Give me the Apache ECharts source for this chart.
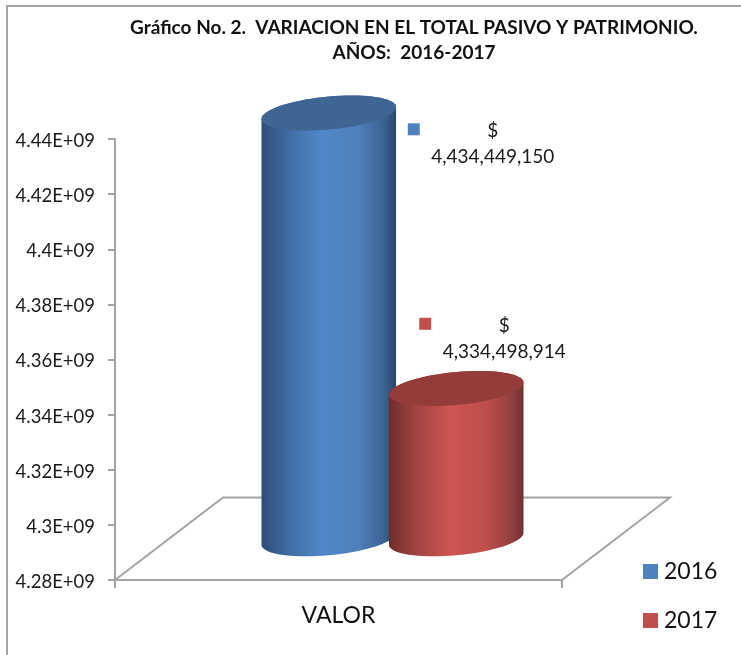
<!DOCTYPE html>
<html>
<head>
<meta charset="utf-8">
<style>html,body{margin:0;padding:0;background:#fff}#c{width:741px;height:655px}</style>
<script src="https://cdn.jsdelivr.net/npm/echarts@6/dist/echarts.min.js"></script>
</head>
<body>
<div id="c"></div>
<script>
var titleText = 'Gráfico No. 2.  VARIACION EN EL TOTAL PASIVO Y PATRIMONIO.\nAÑOS:  2016-2017';
var categories = ['VALOR'];
var seriesNames = ['2016', '2017'];
var values2016 = [4434449150];
var values2017 = [4334498914];
var tickLabels = ['4.28E+09','4.3E+09','4.32E+09','4.34E+09','4.36E+09','4.38E+09','4.4E+09','4.42E+09','4.44E+09'];
var axisMin = 4280000000, axisMax = 4440000000, axisStep = 20000000;

var FONT = 'Lato, "Open Sans", sans-serif';
var depthX = 108, depthY = 82.5;
var grey = '#a3a3a3';

function cylinder(look) {
  return function (params, api) {
    var v = api.value(1);
    var band = api.size([1, 0])[0];
    var front = api.coord([0, axisMin]);
    var topPt = api.coord([0, v]);
    var cx = front[0] + look.offset * band + depthX / 2;
    var baseY = front[1] - depthY / 2;
    var topY = topPt[1] - depthY / 2;
    var A = 0.1505 * band, S = 6, R = 16.5;
    function pt(cy, t) { return [cx + A * Math.cos(t), cy - S * Math.cos(t) - R * Math.sin(t)]; }
    var N = 72, i, top = [], body = [];
    for (i = 0; i < N; i++) top.push(pt(topY, i / N * 2 * Math.PI));
    for (i = 0; i <= N / 2; i++) body.push(pt(topY, Math.PI * i / (N / 2)));
    for (i = 0; i <= N / 2; i++) body.push(pt(baseY, Math.PI + Math.PI * i / (N / 2)));
    var sq = 12;
    return {
      type: 'group',
      children: [
        { type: 'polygon', shape: { points: body }, style: { fill: {
            type: 'linear', x: 0, y: 0, x2: 1, y2: 0,
            colorStops: look.stops } } },
        { type: 'polygon', shape: { points: top }, style: { fill: look.top } },
        { type: 'rect',
          shape: { x: cx + look.markDx - sq / 2, y: topPt[1] + look.markDy - sq / 2, width: sq, height: sq },
          style: { fill: look.color } },
        { type: 'text',
          style: { x: cx + look.textDx, y: topPt[1] + look.textDy,
            text: '$\n' + v.toLocaleString('en-US'),
            font: '19px ' + FONT, fill: '#1a1a1a', align: 'center', verticalAlign: 'middle', lineHeight: 26 } }
      ]
    };
  };
}

function floor(params, api) {
  var band = api.size([1, 0])[0];
  var c = api.coord([0, axisMin]);
  var l = c[0] - band / 2, r = c[0] + band / 2, y = c[1];
  return {
    type: 'polyline',
    shape: { points: [[l, y], [l + depthX, y - depthY], [r + depthX, y - depthY], [r, y]] },
    style: { stroke: grey, lineWidth: 2, fill: null }
  };
}

var lookBlue = { offset: -0.1426, color: '#4f81bd', top: '#3f6592',
  stops: [{offset:0,color:'#2c4e78'},{offset:0.2,color:'#3f6ca3'},{offset:0.45,color:'#5288ca'},{offset:0.72,color:'#4d7fba'},{offset:0.9,color:'#3d6596'},{offset:1,color:'#2a4668'}],
  markDx: 85, markDy: -25, textDx: 164, textDy: -10 };
var lookRed = { offset: 0.1426, color: '#c0504d', top: '#933c3a',
  stops: [{offset:0,color:'#6e2d2b'},{offset:0.2,color:'#a14341'},{offset:0.45,color:'#cc5552'},{offset:0.72,color:'#bd4f4c'},{offset:0.9,color:'#954040'},{offset:1,color:'#6f3130'}],
  markDx: -31, markDy: -106, textDx: 48, textDy: -90.5 };

var chart = echarts.init(document.getElementById('c'), null, { renderer: 'canvas' });
chart.setOption({
  animation: false,
  backgroundColor: '#fff',
  graphic: [{ type: 'polyline', silent: true, z: 0,
    shape: { points: [[7, 655], [7, 6], [741, 6]] },
    style: { stroke: grey, lineWidth: 2, fill: null } }],
  title: { text: titleText, left: 409, top: 10, textAlign: 'center',
    textStyle: { fontFamily: FONT, fontSize: 19, fontWeight: 'bold', color: '#111', lineHeight: 25 } },
  legend: { orient: 'vertical', left: 643, top: 560, padding: 0, itemWidth: 15, itemHeight: 15, itemGap: 26,
    icon: 'rect', selectedMode: false, data: seriesNames,
    textStyle: { fontFamily: FONT, fontSize: 23, color: '#111', padding: [0, 0, 0, 1] } },
  grid: { left: 115, right: 179, top: 139, bottom: 75 },
  xAxis: { type: 'category', data: categories, boundaryGap: true,
    axisLine: { lineStyle: { color: grey, width: 2 } },
    axisTick: { show: true, length: 8, lineStyle: { color: grey, width: 2 } },
    axisLabel: { fontFamily: FONT, fontSize: 23, color: '#111', margin: 24 } },
  yAxis: { type: 'value', min: axisMin, max: axisMax, interval: axisStep,
    splitLine: { show: false },
    axisLine: { show: true, lineStyle: { color: grey, width: 2 } },
    axisTick: { show: true, length: 7, lineStyle: { color: grey, width: 2 } },
    axisLabel: { fontFamily: FONT, fontSize: 18.5, color: '#1a1a1a', margin: 20, verticalAlign: 'top', lineHeight: 4,
      formatter: function (val) { return tickLabels[Math.round((val - axisMin) / axisStep)]; } } },
  series: [
    { type: 'custom', name: 'floor', silent: true, z: 1, renderItem: floor, data: [[0, axisMin]], encode: { x: 0, y: 1 } },
    { type: 'custom', name: seriesNames[0], z: 2, clip: false, itemStyle: { color: lookBlue.color },
      renderItem: cylinder(lookBlue), data: [[0, values2016[0]]], encode: { x: 0, y: 1 } },
    { type: 'custom', name: seriesNames[1], z: 3, clip: false, itemStyle: { color: lookRed.color },
      renderItem: cylinder(lookRed), data: [[0, values2017[0]]], encode: { x: 0, y: 1 } }
  ]
});
</script>
</body>
</html>
